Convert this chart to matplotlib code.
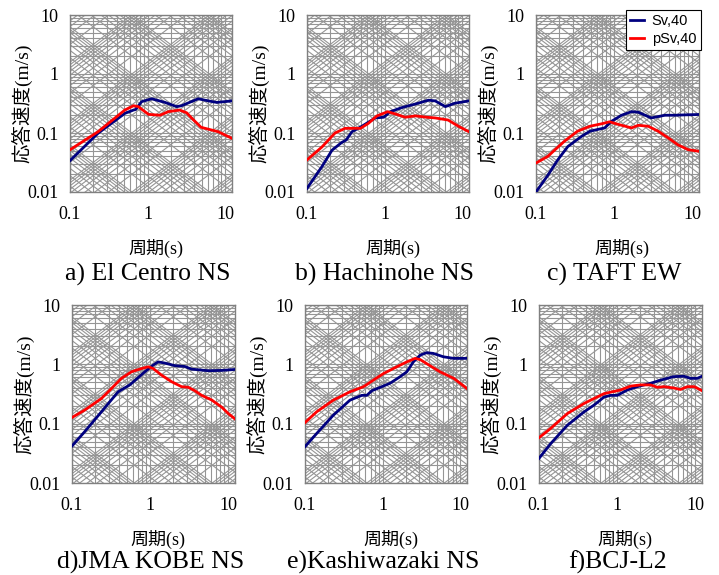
import numpy as np
import matplotlib
matplotlib.use('Agg')
import matplotlib.pyplot as plt

# periods (s) and values (m/s), per record
t_a_sv = [0.1, 0.23, 0.51, 0.66, 0.70, 0.84, 1.13, 1.68, 2.38, 2.75, 4.5, 6.1, 7.8, 12.3]
v_a_sv = [0.034, 0.099, 0.215, 0.245, 0.25, 0.34, 0.38, 0.33, 0.28, 0.29, 0.38, 0.35, 0.33, 0.35]
t_a_psv = [0.1, 0.23, 0.51, 0.66, 0.76, 1.03, 1.45, 1.85, 2.6, 3.2, 3.7, 4.9, 8.2, 12.3]
v_a_psv = [0.052, 0.105, 0.245, 0.29, 0.28, 0.207, 0.2, 0.23, 0.245, 0.22, 0.18, 0.125, 0.105, 0.081]

t_b_sv = [0.1, 0.156, 0.21, 0.28, 0.32, 0.38, 0.51, 0.76, 0.98, 1.19, 1.68, 2.5, 3.7, 4.5, 6.1, 8.1, 12.3]
v_b_sv = [0.0115, 0.027, 0.051, 0.069, 0.076, 0.105, 0.13, 0.18, 0.185, 0.23, 0.27, 0.31, 0.36, 0.35, 0.28, 0.32, 0.35]
t_b_psv = [0.1, 0.156, 0.23, 0.31, 0.49, 0.62, 0.8, 1.1, 1.38, 1.85, 2.5, 3.5, 4.5, 6.6, 9.0, 12.3]
v_b_psv = [0.035, 0.058, 0.1, 0.12, 0.12, 0.146, 0.195, 0.23, 0.21, 0.185, 0.195, 0.185, 0.18, 0.166, 0.13, 0.105]

t_c_sv = [0.1, 0.141, 0.19, 0.256, 0.38, 0.49, 0.62, 0.76, 0.93, 1.25, 1.68, 2.05, 3.0, 4.5, 6.1, 8.2, 12.3]
v_c_sv = [0.01, 0.019, 0.035, 0.059, 0.087, 0.107, 0.115, 0.122, 0.158, 0.2, 0.23, 0.225, 0.18, 0.2, 0.2, 0.203, 0.206]
t_c_psv = [0.1, 0.141, 0.23, 0.34, 0.49, 0.69, 0.88, 1.13, 1.68, 2.05, 2.75, 3.7, 5.0, 6.6, 9.0, 12.3]
v_c_psv = [0.031, 0.04, 0.072, 0.107, 0.13, 0.143, 0.155, 0.14, 0.122, 0.135, 0.13, 0.107, 0.082, 0.063, 0.052, 0.049]

t_d_sv = [0.1, 0.145, 0.238, 0.39, 0.55, 0.86, 1.1, 1.27, 1.55, 2.08, 2.8, 3.4, 5.6, 8.3, 12.3]
v_d_sv = [0.042, 0.073, 0.158, 0.344, 0.45, 0.75, 0.97, 1.1, 1.05, 0.95, 0.92, 0.83, 0.78, 0.79, 0.82]
t_d_psv = [0.1, 0.145, 0.238, 0.32, 0.43, 0.58, 0.78, 0.95, 1.1, 1.4, 1.89, 2.54, 3.1, 3.75, 4.6, 6.2, 8.3, 10.1, 12.3]
v_d_psv = [0.127, 0.169, 0.265, 0.39, 0.58, 0.75, 0.85, 0.91, 0.85, 0.66, 0.51, 0.42, 0.41, 0.36, 0.30, 0.25, 0.19, 0.148, 0.12]

t_e_sv = [0.1, 0.141, 0.232, 0.38, 0.54, 0.627, 0.73, 0.98, 1.25, 1.69, 2.06, 2.5, 3.07, 3.7, 4.5, 6.1, 8.3, 12.3]
v_e_sv = [0.041, 0.068, 0.139, 0.249, 0.30, 0.30, 0.36, 0.42, 0.48, 0.62, 0.75, 1.1, 1.43, 1.57, 1.53, 1.34, 1.26, 1.26]
t_e_psv = [0.1, 0.141, 0.232, 0.38, 0.57, 0.76, 1.03, 1.53, 2.06, 2.63, 3.07, 3.7, 5.5, 8.3, 12.3]
v_e_psv = [0.104, 0.158, 0.249, 0.344, 0.42, 0.54, 0.70, 0.91, 1.1, 1.26, 1.2, 1.03, 0.75, 0.58, 0.39]

t_f_sv = [0.1, 0.141, 0.231, 0.378, 0.506, 0.68, 0.83, 1.01, 1.36, 1.82, 2.7, 3.6, 5.3, 7.2, 8.8, 10.7, 12.3]
v_f_sv = [0.026, 0.046, 0.094, 0.158, 0.205, 0.28, 0.30, 0.30, 0.37, 0.42, 0.48, 0.54, 0.62, 0.63, 0.58, 0.58, 0.63]
t_f_psv = [0.1, 0.141, 0.231, 0.378, 0.506, 0.68, 0.83, 1.11, 1.5, 2.0, 2.7, 3.3, 4.0, 5.3, 6.5, 8.0, 9.8, 12.3]
v_f_psv = [0.058, 0.083, 0.148, 0.219, 0.265, 0.32, 0.34, 0.37, 0.43, 0.45, 0.45, 0.41, 0.42, 0.40, 0.377, 0.42, 0.42, 0.36]

titles = ['a) El Centro NS', 'b) Hachinohe NS', 'c) TAFT EW',
          'd)JMA KOBE NS', 'e)Kashiwazaki NS', 'f)BCJ-L2']
series = [(t_a_sv, v_a_sv, t_a_psv, v_a_psv),
          (t_b_sv, v_b_sv, t_b_psv, v_b_psv),
          (t_c_sv, v_c_sv, t_c_psv, v_c_psv),
          (t_d_sv, v_d_sv, t_d_psv, v_d_psv),
          (t_e_sv, v_e_sv, t_e_psv, v_e_psv),
          (t_f_sv, v_f_sv, t_f_psv, v_f_psv)]

W, H = 719, 575
# axes boxes in pixels: left, top, right, bottom
boxes = [(70, 15, 232, 192), (307, 15, 469, 192), (536, 15, 699, 192),
         (72, 305, 235, 483), (305, 305, 467, 483), (539, 305, 702, 483)]

SERIF = ['Liberation Serif', 'Noto Sans CJK JP']
GRID = '#959595'
XMAX = 12.3


def tripartite_grid(ax):
    steps = [k * 10.0 ** n for n in range(-5, 4) for k in range(1, 10)]
    for s in steps:
        if 0.1 <= s <= XMAX:
            ax.axvline(s, color=GRID, lw=0.8, zorder=1)
        if 0.01 <= s <= 10:
            ax.axhline(s, color=GRID, lw=0.8, zorder=1)
    tt = np.array([0.05, 30.0])
    for s in steps:
        # constant acceleration (m/s2) and constant displacement (m)
        ax.plot(tt, s * tt / (2 * np.pi), color=GRID, lw=0.8, zorder=1)
        ax.plot(tt, s * 2 * np.pi / tt, color=GRID, lw=0.8, zorder=1)


fig = plt.figure(figsize=(W / 100, H / 100), dpi=100)

for i, (box, title, (ts, vs, tp, vp)) in enumerate(zip(boxes, titles, series)):
    l, t, r, b = box
    ax = fig.add_axes([l / W, 1 - b / H, (r - l) / W, (b - t) / H])
    ax.set_xscale('log')
    ax.set_yscale('log')
    tripartite_grid(ax)
    ax.plot(ts, vs, color='#000080', lw=2, zorder=3, label='Sv,40')
    ax.plot(tp, vp, color='#ff0000', lw=2, zorder=3, label='pSv,40')
    ax.set_xlim(0.1, XMAX)
    ax.set_ylim(0.01, 10)
    ax.set_xticks([0.1, 1, 10])
    ax.set_xticklabels(['0.1', '1', '10'])
    ax.set_yticks([0.01, 0.1, 1, 10])
    ax.set_yticklabels(['0.01', '0.1', '1', '10'])
    ax.minorticks_off()
    ax.tick_params(length=0, labelsize=13)
    ax.tick_params(axis='x', pad=10)
    ax.tick_params(axis='y', pad=8)
    for lab in ax.get_xticklabels() + ax.get_yticklabels():
        lab.set_family('Liberation Serif')
    for sp in ax.spines.values():
        sp.set_color('#808080')
        sp.set_linewidth(1)
    wpx = r - l
    hpx = b - t
    ax.set_ylabel('応答速度(m/s)', family=SERIF, fontsize=14)
    ax.yaxis.set_label_coords(-37 / wpx, 0.5)
    ax.text(0.53, -56 / hpx, '周期(s)', transform=ax.transAxes, family=SERIF,
            fontsize=13, ha='center', va='center')
    ax.text(0.48, -(82 if i < 3 else 79) / hpx, title, transform=ax.transAxes,
            family=SERIF, fontsize=18.5, ha='center', va='center')
    if i == 2:
        leg = ax.legend(loc='upper right', bbox_to_anchor=(1.01, 1.03),
                        prop={'family': 'Liberation Sans', 'size': 10.5},
                        fancybox=False, framealpha=1, edgecolor='black',
                        borderaxespad=0, handlelength=1.0, handletextpad=0.5,
                        borderpad=0.3, labelspacing=0.25)
        leg.get_frame().set_linewidth(0.8)
        leg.set_zorder(5)

fig.savefig('out.png', dpi=100)
